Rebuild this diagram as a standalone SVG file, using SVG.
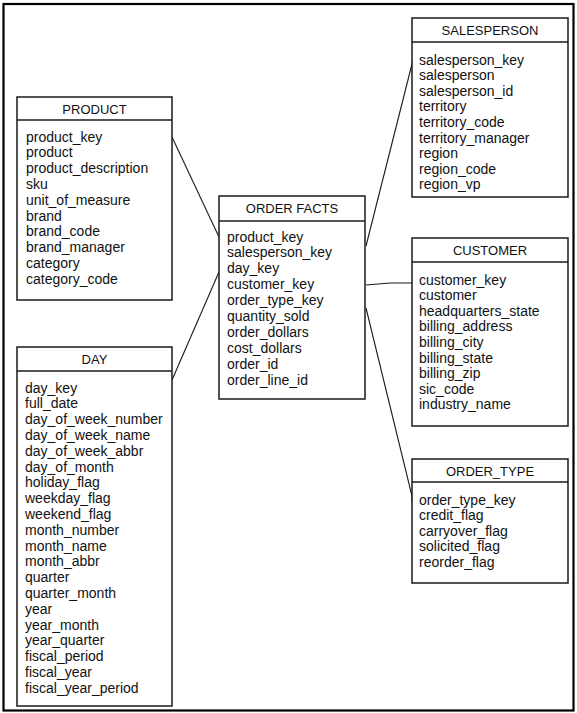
<svg xmlns="http://www.w3.org/2000/svg" width="577" height="713" viewBox="0 0 577 713">
<style>
  .box { fill: #ffffff; stroke: #1a1a1a; stroke-width: 1.5; }
  .sep { stroke: #1a1a1a; stroke-width: 1.5; }
  .hdr { font-family: "Liberation Sans", Arial, sans-serif; font-size: 13px; fill: #111; text-anchor: middle; }
  .fld { font-family: "Liberation Sans", Arial, sans-serif; font-size: 14px; fill: #111; }
  .conn { fill: none; stroke: #1a1a1a; stroke-width: 1.1; }
</style>
<rect x="0" y="0" width="577" height="713" fill="#ffffff"/>
<rect x="3.5" y="4" width="570" height="706.5" fill="none" stroke="#000" stroke-width="2.2"/>

<g id="connectors">
  <line class="conn" x1="172" y1="137" x2="219" y2="237"/>
  <line class="conn" x1="172" y1="380" x2="219" y2="272"/>
  <polyline class="conn" points="366,246 413,60"/>
  <polyline class="conn" points="366,285 390,283 412,283"/>
  <polyline class="conn" points="366,308 412,496 412,502"/>
</g>

<g id="product">
  <rect class="box" x="17" y="97" width="155" height="203"/>
  <line class="sep" x1="17" y1="120" x2="172" y2="120"/>
  <text class="hdr" x="94.5" y="113.5">PRODUCT</text>
  <text class="fld" x="26" y="141.5">product_key</text>
  <text class="fld" x="26" y="157.3">product</text>
  <text class="fld" x="26" y="173.1">product_description</text>
  <text class="fld" x="26" y="188.9">sku</text>
  <text class="fld" x="26" y="204.7">unit_of_measure</text>
  <text class="fld" x="26" y="220.5">brand</text>
  <text class="fld" x="26" y="236.3">brand_code</text>
  <text class="fld" x="26" y="252.1">brand_manager</text>
  <text class="fld" x="26" y="267.9">category</text>
  <text class="fld" x="26" y="283.7">category_code</text>
</g>

<g id="day">
  <rect class="box" x="17" y="347" width="155" height="359"/>
  <line class="sep" x1="17" y1="371" x2="172" y2="371"/>
  <text class="hdr" x="94.5" y="364">DAY</text>
  <text class="fld" x="25" y="392.5">day_key</text>
  <text class="fld" x="25" y="408.3">full_date</text>
  <text class="fld" x="25" y="424.1">day_of_week_number</text>
  <text class="fld" x="25" y="439.9">day_of_week_name</text>
  <text class="fld" x="25" y="455.7">day_of_week_abbr</text>
  <text class="fld" x="25" y="471.5">day_of_month</text>
  <text class="fld" x="25" y="487.3">holiday_flag</text>
  <text class="fld" x="25" y="503.1">weekday_flag</text>
  <text class="fld" x="25" y="518.9">weekend_flag</text>
  <text class="fld" x="25" y="534.7">month_number</text>
  <text class="fld" x="25" y="550.5">month_name</text>
  <text class="fld" x="25" y="566.3">month_abbr</text>
  <text class="fld" x="25" y="582.1">quarter</text>
  <text class="fld" x="25" y="597.9">quarter_month</text>
  <text class="fld" x="25" y="613.7">year</text>
  <text class="fld" x="25" y="629.5">year_month</text>
  <text class="fld" x="25" y="645.3">year_quarter</text>
  <text class="fld" x="25" y="661.1">fiscal_period</text>
  <text class="fld" x="25" y="676.9">fiscal_year</text>
  <text class="fld" x="25" y="692.7">fiscal_year_period</text>
</g>

<g id="order_facts">
  <rect class="box" x="219" y="196" width="146" height="203"/>
  <line class="sep" x1="219" y1="221" x2="365" y2="221"/>
  <text class="hdr" x="292" y="213">ORDER FACTS</text>
  <text class="fld" x="227" y="241.5">product_key</text>
  <text class="fld" x="227" y="257.4">salesperson_key</text>
  <text class="fld" x="227" y="273.3">day_key</text>
  <text class="fld" x="227" y="289.2">customer_key</text>
  <text class="fld" x="227" y="305.1">order_type_key</text>
  <text class="fld" x="227" y="321">quantity_sold</text>
  <text class="fld" x="227" y="336.9">order_dollars</text>
  <text class="fld" x="227" y="352.8">cost_dollars</text>
  <text class="fld" x="227" y="368.7">order_id</text>
  <text class="fld" x="227" y="384.6">order_line_id</text>
</g>

<g id="salesperson">
  <rect class="box" x="412" y="18" width="156" height="179"/>
  <line class="sep" x1="412" y1="42" x2="568" y2="42"/>
  <text class="hdr" x="490" y="35">SALESPERSON</text>
  <text class="fld" x="419" y="64.5">salesperson_key</text>
  <text class="fld" x="419" y="80.1">salesperson</text>
  <text class="fld" x="419" y="95.7">salesperson_id</text>
  <text class="fld" x="419" y="111.3">territory</text>
  <text class="fld" x="419" y="126.9">territory_code</text>
  <text class="fld" x="419" y="142.5">territory_manager</text>
  <text class="fld" x="419" y="158.1">region</text>
  <text class="fld" x="419" y="173.7">region_code</text>
  <text class="fld" x="419" y="189.3">region_vp</text>
</g>

<g id="customer">
  <rect class="box" x="412" y="238" width="156" height="188"/>
  <line class="sep" x1="412" y1="262" x2="568" y2="262"/>
  <text class="hdr" x="490" y="255">CUSTOMER</text>
  <text class="fld" x="419" y="284.5">customer_key</text>
  <text class="fld" x="419" y="300.1">customer</text>
  <text class="fld" x="419" y="315.7">headquarters_state</text>
  <text class="fld" x="419" y="331.3">billing_address</text>
  <text class="fld" x="419" y="346.9">billing_city</text>
  <text class="fld" x="419" y="362.5">billing_state</text>
  <text class="fld" x="419" y="378.1">billing_zip</text>
  <text class="fld" x="419" y="393.7">sic_code</text>
  <text class="fld" x="419" y="409.3">industry_name</text>
</g>

<g id="order_type">
  <rect class="box" x="412" y="459" width="156" height="124"/>
  <line class="sep" x1="412" y1="482" x2="568" y2="482"/>
  <text class="hdr" x="490" y="475.5">ORDER_TYPE</text>
  <text class="fld" x="419" y="504.5">order_type_key</text>
  <text class="fld" x="419" y="520">credit_flag</text>
  <text class="fld" x="419" y="535.5">carryover_flag</text>
  <text class="fld" x="419" y="551">solicited_flag</text>
  <text class="fld" x="419" y="566.5">reorder_flag</text>
</g>
</svg>
